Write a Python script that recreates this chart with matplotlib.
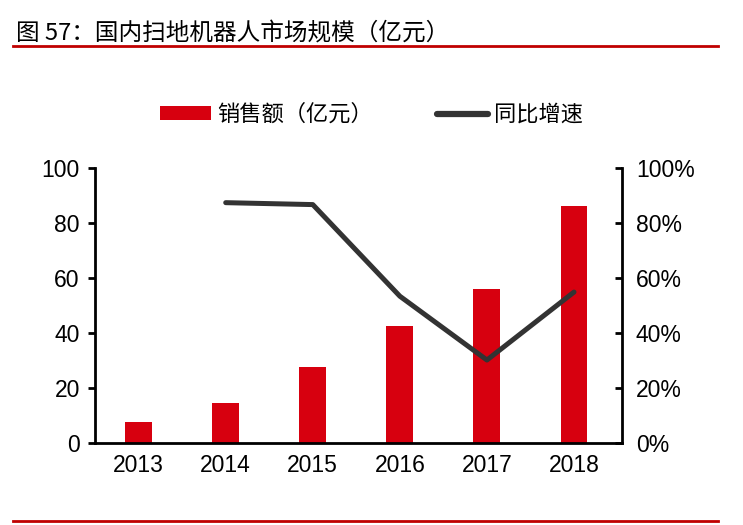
import numpy as np
import matplotlib
matplotlib.use("Agg")
import matplotlib.pyplot as plt
from matplotlib.lines import Line2D
from matplotlib.patches import Patch

# 数据
years = ["2013", "2014", "2015", "2016", "2017", "2018"]
sales = [7.5, 14.5, 27.5, 42.6, 55.9, 86.2]          # 销售额（亿元）
growth = [np.nan, 0.874, 0.867, 0.534, 0.302, 0.549]  # 同比增速

title = "图 57：国内扫地机器人市场规模（亿元）"
bar_label = "销售额（亿元）"
line_label = "同比增速"

cjk = ["Noto Sans CJK SC", "DejaVu Sans"]
num_font = "Liberation Sans"
red = "#D7000F"
rule_red = "#C00000"
line_col = "#333333"

fig = plt.figure(figsize=(7.43, 5.25), dpi=100)
ax = fig.add_axes([0.128, 0.156, 0.709, 0.524])
ax2 = ax.twinx()

x = np.arange(len(years))
ax.bar(x, sales, width=0.31, color=red, zorder=2)
ax2.plot(x, growth, color=line_col, linewidth=3.6, solid_capstyle="round", zorder=3)

ax.set_xlim(-0.5, 5.55)
ax.set_ylim(0, 100)
ax.set_yticks(np.arange(0, 101, 20))
ax2.set_ylim(0, 1)
ax2.set_yticks(np.arange(0, 1.01, 0.2))
ax2.set_yticklabels([f"{int(round(v*100))}%" for v in np.arange(0, 1.01, 0.2)])
ax.set_xticks(x)
ax.set_xticklabels(years)

for a in (ax, ax2):
    a.spines["top"].set_visible(False)
    for s in ("left", "right", "bottom"):
        a.spines[s].set_linewidth(2)
        a.spines[s].set_color("black")
    for lab in a.get_yticklabels() + a.get_xticklabels():
        lab.set_fontfamily(num_font)
        lab.set_fontsize(16.5)
ax.spines["right"].set_visible(False)
ax2.spines["left"].set_visible(False)
ax2.spines["bottom"].set_visible(False)

ax.tick_params(axis="y", direction="out", length=5, width=2, pad=6)
ax.tick_params(axis="x", length=0, pad=8)
ax2.tick_params(axis="y", direction="in", length=5, width=2, pad=10)

# 图例
handles = [Patch(facecolor=red, edgecolor="none", label=bar_label),
           Line2D([0], [0], color=line_col, linewidth=4.5, solid_capstyle="round", label=line_label)]
fig.legend(handles=handles, loc="center", bbox_to_anchor=(0.5, 0.782), ncol=2,
           frameon=False, prop={"family": cjk, "size": 16}, handlelength=2.3,
           handleheight=0.55, handletextpad=0.25, columnspacing=2.9)

# 标题与分隔线
fig.text(0.022, 0.938, title, fontsize=17, family=cjk, ha="left", va="center")
fig.add_artist(Line2D([0.017, 0.967], [0.912, 0.912], color=rule_red, linewidth=2))
fig.add_artist(Line2D([0.017, 0.967], [0.008, 0.008], color=rule_red, linewidth=2))

fig.savefig("out.png", dpi=100)
